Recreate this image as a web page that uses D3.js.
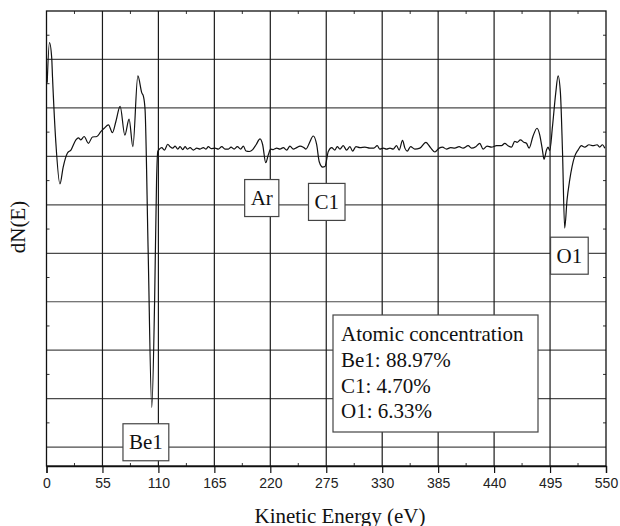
<!DOCTYPE html>
<html>
<head>
<meta charset="utf-8">
<script src="https://cdn.jsdelivr.net/npm/d3@7/dist/d3.min.js"></script>
<style>
  html, body { margin: 0; padding: 0; background: #fff; }
  svg { display: block; }
  .serif { font-family: "Liberation Serif", "Times New Roman", Times, "DejaVu Serif", serif; }
  .sans { font-family: "Liberation Sans", Arial, Helvetica, sans-serif; }
</style>
</head>
<body>
<svg id="chart" width="620" height="526"></svg>
<script>
// ---- data ----
const energy = [
  0.7, 2.9, 5.1, 5.9, 9.2, 13.2, 16.4, 20.6, 24.0, 28.9, 31.4, 33.8, 37.0, 41.2, 45.2, 49.5,
  53.4, 56.7, 60.9, 64.8, 68.2, 72.4, 77.0, 81.2, 84.9, 89.8, 93.7, 95.3, 96.9, 99.9, 103.5,
  106.3, 108.2, 109.4, 111.0, 113.3, 115.9, 119.2, 121.5, 124.1, 126.4, 129.1, 131.3, 134.0,
  136.2, 138.5, 141.1, 144.4, 147.7, 151.0, 154.2, 156.8, 159.1, 161.8, 165.7, 168.9, 172.3,
  175.5, 178.8, 181.4, 184.4, 187.6, 190.9, 193.5, 196.1, 199.4, 202.7, 206.0, 209.9, 212.5,
  215.5, 218.0, 220.4, 222.9, 226.3, 229.5, 232.8, 236.1, 239.3, 242.6, 245.9, 249.2, 252.4,
  255.1, 258.3, 262.2, 265.6, 268.1, 271.5, 273.7, 277.0, 280.3, 283.5, 285.8, 288.5, 291.7,
  295.0, 298.3, 300.9, 304.2, 308.1, 313.0, 317.9, 321.8, 325.1, 327.7, 331.0, 334.3, 337.6,
  340.8, 344.1, 346.7, 350.0, 352.3, 354.6, 357.9, 362.1, 367.0, 372.9, 377.5, 381.8, 386.0,
  389.3, 393.2, 397.2, 401.4, 405.6, 409.5, 414.5, 417.8, 422.0, 425.9, 429.2, 433.1, 437.4,
  442.4, 447.3, 450.5, 453.7, 457.1, 460.3, 462.6, 465.9, 469.2, 471.8, 474.4, 478.3, 482.2,
  484.9, 487.5, 489.1, 491.5, 493.0, 494.7, 497.4, 500.6, 502.9, 505.2, 507.2, 509.4, 511.7,
  514.3, 519.2, 522.5, 525.8, 529.1, 533.3, 537.2, 541.2, 543.8, 546.5, 548.8
];
const dNE = [
  15.2, 23.5, 20.4, 16.4, 2.8, -5.7, -2.2, 0.7, 1.3, 3.4, 3.8, 3.4, 4.1, 2.7, 4.0, 4.1,
  5.1, 5.8, 6.5, 4.9, 7.2, 10.3, 4.4, 7.7, 2.0, 16.6, 13.1, 12.4, 9.6, -19.3, -51.8,
  -29.6, -4.9, 1.0, 1.5, 1.8, 1.3, 2.5, 2.0, 1.7, 2.1, 1.5, 2.0, 1.4,
  2.0, 1.5, 1.8, 1.3, 1.7, 1.5, 1.8, 1.5, 2.0, 1.6, 1.7, 1.5, 2.0,
  1.5, 1.5, 1.9, 1.5, 2.0, 1.5, 2.1, 1.1, 1.0, 1.4, 2.4, 3.6, 2.4,
  -1.3, 0.3, 1.5, 1.4, 1.7, 1.5, 1.8, 1.3, 2.1, 1.5, 1.8, 2.1, 1.9,
  1.5, 2.7, 4.2, 2.4, -1.1, -2.2, -2.1, 1.0, 1.8, 1.3, 2.0, 1.5, 2.2,
  1.3, 2.0, 1.1, 2.0, 1.8, 1.9, 1.7, 1.7, 2.2, 1.5, 1.7, 1.5, 1.7,
  1.5, 2.2, 1.3, 3.3, 1.7, 1.1, 2.0, 1.5, 1.7, 2.9, 1.8, 0.9, 1.7,
  1.9, 1.5, 1.8, 1.7, 2.0, 1.7, 2.2, 1.7, 2.0, 2.7, 1.5, 2.1, 1.9,
  2.2, 2.2, 2.7, 2.2, 1.9, 3.1, 2.9, 3.4, 2.9, 2.7, 1.7, 4.2, 5.8,
  4.4, 1.3, -0.6, 1.3, 1.9, 1.2, 6.2, 13.1, 16.6, 13.1, 1.3, -14.8, -9.0,
  -4.9, 0.0, 1.3, 2.2, 1.9, 2.4, 2.2, 2.4, 1.9, 2.4, 1.7
];

const xTickValues = [0, 55, 110, 165, 220, 275, 330, 385, 440, 495, 550];
const yGridValues = [-60, -50, -40, -30, -20, -10, 0, 10, 20];

const peakNames = ["Be1", "Ar", "C1", "O1"];
const peakEnergy = [97.7, 211.6, 275.5, 514.0];
const peakLabelLevel = [-59.0, -8.6, -9.4, -20.5];

const concTitle = "Atomic concentration";
const concElements = ["Be1", "C1", "O1"];
const concValues = ["88.97", "4.70", "6.33"];

const xTitle = "Kinetic Energy (eV)";
const yTitle = "dN(E)";

// ---- layout ----
const svg = d3.select("#chart");
const pL = 46.5, pR = 606, pT = 11, pB = 466;

svg.append("rect").attr("width", 620).attr("height", 526).attr("fill", "#fff");

const x = d3.scaleLinear().domain([0, 550]).range([pL, pR]);
const y = d3.scaleLinear().domain([-63.9, 30]).range([pB, pT]);

// gridlines
const grid = svg.append("g");
grid.selectAll("line.h").data(yGridValues).join("line").attr("class", "h")
  .attr("x1", pL).attr("x2", pR)
  .attr("y1", d => y(d)).attr("y2", d => y(d))
  .attr("stroke", "#4a4a4a").attr("stroke-width", 1.2);
grid.selectAll("line.v").data(xTickValues.slice(1, -1)).join("line").attr("class", "v")
  .attr("x1", d => x(d)).attr("x2", d => x(d))
  .attr("y1", pT).attr("y2", pB)
  .attr("stroke", "#1a1a1a").attr("stroke-width", 1.2);

// minor tick positions
const xMinor = d3.range(27.5, 550, 55);
const yMinor = d3.range(-55, 30, 10);

// bottom axis
const xAxis = d3.axisBottom(x).tickValues(xTickValues).tickSize(7).tickPadding(5);
const gx = svg.append("g").attr("transform", `translate(0,${pB})`).call(xAxis);
gx.attr("font-family", null).attr("font-size", null);
gx.select(".domain").attr("stroke", "#111").attr("stroke-width", 1.3);
gx.selectAll(".tick line").attr("stroke", "#111").attr("stroke-width", 1.2);
gx.selectAll(".tick text").attr("class", "sans").attr("font-size", 14).attr("fill", "#222");
gx.append("g").selectAll("line").data(xMinor).join("line")
  .attr("x1", d => x(d)).attr("x2", d => x(d)).attr("y1", 0).attr("y2", -3)
  .attr("stroke", "#333").attr("stroke-width", 1);

// top minor ticks
svg.append("g").selectAll("line").data(xMinor).join("line")
  .attr("x1", d => x(d)).attr("x2", d => x(d)).attr("y1", pT).attr("y2", pT + 3)
  .attr("stroke", "#333").attr("stroke-width", 1);

// left/right minor ticks
svg.append("g").selectAll("line").data(yMinor).join("line")
  .attr("x1", pL).attr("x2", pL + 3).attr("y1", d => y(d)).attr("y2", d => y(d))
  .attr("stroke", "#333").attr("stroke-width", 1);
svg.append("g").selectAll("line").data(yMinor).join("line")
  .attr("x1", pR).attr("x2", pR - 3).attr("y1", d => y(d)).attr("y2", d => y(d))
  .attr("stroke", "#333").attr("stroke-width", 1);

// frame
svg.append("rect").attr("x", pL).attr("y", pT)
  .attr("width", pR - pL).attr("height", pB - pT)
  .attr("fill", "none").attr("stroke", "#111").attr("stroke-width", 1.3);

// spectrum
const pts = energy.map((e, i) => [e, dNE[i]]);
const line = d3.line().x(d => x(d[0])).y(d => y(d[1])).curve(d3.curveMonotoneX);
svg.append("path").datum(pts).attr("d", line)
  .attr("fill", "none").attr("stroke", "#111").attr("stroke-width", 1.2)
  .attr("stroke-linejoin", "round");

// peak labels
peakNames.forEach((name, i) => {
  const g = svg.append("g");
  const cx = x(peakEnergy[i]), cy = y(peakLabelLevel[i]);
  const rect = g.append("rect").attr("fill", "#fff").attr("stroke", "#444").attr("stroke-width", 1.2);
  const t = g.append("text").attr("class", "serif").attr("x", cx).attr("y", cy + 7)
    .attr("text-anchor", "middle").attr("font-size", 21)
    .attr("fill", "#111").text(name);
  const w = t.node().getComputedTextLength() + 12;
  rect.attr("x", cx - w / 2).attr("y", cy - 18.5).attr("width", w).attr("height", 37);
});

// concentration box
const cb = svg.append("g");
cb.append("rect").attr("x", 333).attr("y", 315).attr("width", 205).attr("height", 117)
  .attr("fill", "#fff").attr("stroke", "#444").attr("stroke-width", 1.2);
const lines = [concTitle].concat(concElements.map((el, i) => `${el}: ${concValues[i]}%`));
cb.selectAll("text").data(lines).join("text").attr("class", "serif")
  .attr("x", 341).attr("y", (d, i) => 341 + i * 25.8)
  .attr("font-size", 21).attr("fill", "#111")
  .text(d => d);

// axis titles
svg.append("text").attr("class", "serif").attr("x", 340).attr("y", 522.5)
  .attr("text-anchor", "middle").attr("font-size", 21)
  .attr("fill", "#111").text(xTitle);
svg.append("text").attr("class", "serif").attr("transform", `translate(25,227) rotate(-90)`)
  .attr("text-anchor", "middle").attr("font-size", 21)
  .attr("fill", "#111").text(yTitle);
</script>
</body>
</html>
